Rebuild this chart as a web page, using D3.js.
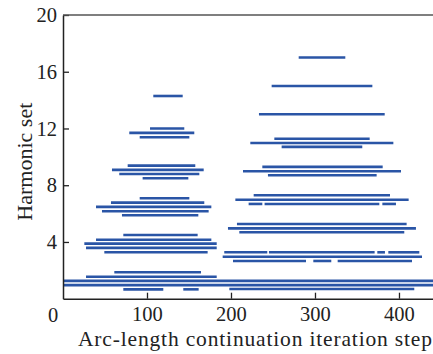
<!DOCTYPE html>
<html>
<head>
<meta charset="utf-8">
<script src="https://cdn.jsdelivr.net/npm/d3@7"></script>
<style>
  html, body { margin: 0; padding: 0; background: #fff; }
  svg { display: block; }
  text { font-family: "Liberation Serif", "DejaVu Serif", serif; fill: #222; }
</style>
</head>
<body>
<svg id="chart" width="433" height="354"></svg>
<script>
// Segment data: harmonic-set level, start step, end step
const segLevel = [
  14.29, 12.0, 11.69, 11.38, 9.38, 9.08, 8.79, 8.49, 7.08, 6.77, 6.47, 6.16, 5.88,
  4.49, 4.16, 3.88, 3.58, 3.27, 1.86, 1.55, 0.66, 0.66,
  1.26, 0.96,
  17.0, 15.0, 13.0, 11.28, 10.98, 10.7, 9.29, 8.98, 8.70, 7.29, 6.98,
  6.68, 6.68, 6.68, 5.27, 4.96, 4.68,
  3.27, 3.27, 3.27, 3.27, 2.96, 2.66, 2.66, 2.66, 0.68
];
const segStart = [
  107.5, 103.6, 78.9, 91.3, 77, 58.3, 67, 94.8, 91.3, 57.1, 39.3, 46.4, 70.2,
  71.8, 39.3, 25.4, 27.4, 49.2, 61.1, 27.4, 71.8, 143.2,
  0, 0,
  280.6, 248.4, 233.3, 251.6, 223, 260.3, 237.3, 214.3, 244, 227, 205.2,
  221, 240, 380.2, 207.1, 196.4, 209.9,
  192, 245.2, 374.2, 387.3, 190.1, 202.4, 298, 327, 198
];
const segEnd = [
  142.5, 144.4, 156.3, 150.4, 157.5, 167.5, 162.3, 149.2, 150.4, 168.2, 176.6, 173.4, 161.1,
  160.3, 176.6, 183, 183, 172.2, 164.3, 183, 119.4, 161.5,
  440.5, 440.5,
  336.1, 368.3, 383, 365.1, 393.3, 356.3, 380.6, 402.4, 373.4, 389.3, 411.5,
  237.3, 376.6, 396.4, 409.1, 420.2, 406.3,
  243.2, 371, 383.3, 424.2, 427.4, 289.3, 319.4, 415.5, 418.2
];
const xTicks = [100, 200, 300, 400];
const yTicks = [4, 8, 12, 16, 20];
const xLabel = "Arc-length continuation iteration step";
const yLabel = "Harmonic set";

const svg = d3.select("#chart");
const mLeft = 63, mRight = 433, mTop = 15, mBottom = 298.7;
const x = d3.scaleLinear().domain([0, 440.5]).range([mLeft, mRight]);
const y = d3.scaleLinear().domain([0, 20]).range([mBottom, mTop]);

const segs = segLevel.map((v, i) => ({ v, s: segStart[i], e: segEnd[i] }));

svg.append("g").selectAll("line").data(segs).join("line")
  .attr("x1", d => x(d.s)).attr("x2", d => x(d.e))
  .attr("y1", d => y(d.v)).attr("y2", d => y(d.v))
  .attr("stroke", "#2a55a6").attr("stroke-width", 2.6);

// Axes (inward ticks)
const xAxis = d3.axisBottom(x).tickValues(xTicks).tickSizeInner(-6).tickSizeOuter(0).tickPadding(8);
const gx = svg.append("g").attr("transform", `translate(0,${mBottom})`).call(xAxis);
const yAxis = d3.axisLeft(y).tickValues(yTicks).tickSizeInner(-6).tickSizeOuter(0).tickPadding(6);
const gy = svg.append("g").attr("transform", `translate(${mLeft},0)`).call(yAxis);

[gx, gy].forEach(g => {
  g.select(".domain").attr("stroke", "#222").attr("stroke-width", 1.5);
  g.selectAll(".tick line").attr("stroke", "#222").attr("stroke-width", 1.3);
  g.selectAll(".tick text").attr("font-size", 20.5).attr("font-family", "Liberation Serif, serif").attr("fill", "#222");
});

// top frame line
svg.append("line").attr("x1", mLeft).attr("x2", mRight).attr("y1", mTop).attr("y2", mTop)
  .attr("stroke", "#555").attr("stroke-width", 1.6);

// "0" label
svg.append("text").attr("x", 58.3).attr("y", 321.5).attr("text-anchor", "end")
  .attr("font-size", 20.5).text("0");

svg.append("text").attr("x", 255).attr("y", 346).attr("text-anchor", "middle")
  .attr("font-size", 21.5).attr("textLength", 354).attr("lengthAdjust", "spacing").text(xLabel);

svg.append("text").attr("transform", "translate(32,161.7) rotate(-90)")
  .attr("text-anchor", "middle").attr("font-size", 22).text(yLabel);
</script>
</body>
</html>
